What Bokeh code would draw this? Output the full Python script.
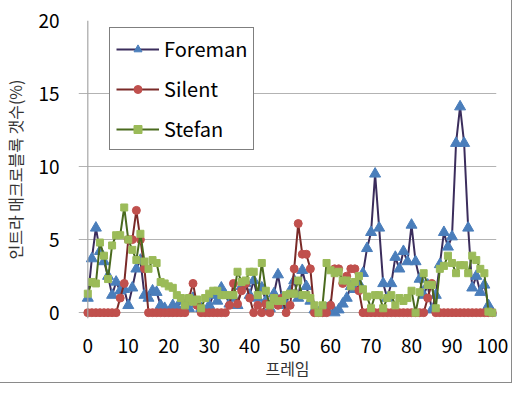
from bokeh.plotting import figure
from bokeh.models import Range1d, Span, FixedTicker, Legend, LegendItem
from bokeh.embed import file_html
from bokeh.resources import INLINE

frames = list(range(0, 101))

foreman = [1.0, 3.7, 5.8, 4.2, 3.5, 2.5, 1.2, 2.1, 1.5, 1.6,
           0.5, 1.7, 3.0, 3.6, 1.2, 1.0, 1.5, 1.4, 0.5, 0.3,
           0.0, 0.5, 0.3, 0.8, 0.5, 0.3, 1.0, 0.6, 0.3, 0.0,
           0.5, 1.2, 0.8, 1.7, 1.2, 0.6, 1.0, 0.5, 1.8, 2.0,
           1.2, 2.2, 1.0, 1.7, 0.8, 0.3, 1.3, 2.6, 1.0, 0.5,
           1.5, 2.2, 1.0, 2.9, 1.8, 0.8, 0.2, 0.0, 0.0, 0.3,
           0.5, 0.0, 0.2, 0.6, 1.0, 1.8, 1.6, 2.0, 2.7, 4.4,
           5.5, 9.5, 5.8, 2.0, 1.0, 2.0, 3.8, 3.0, 4.2, 3.5,
           6.0, 3.5, 2.3, 1.2, 1.9, 0.2, 1.2, 3.3, 5.5, 4.5,
           5.2, 11.6, 14.1, 11.6, 5.8, 1.7, 2.5, 1.4, 1.9, 0.5,
           0.0]

silent = [0.0, 0.0, 0.0, 0.0, 0.0, 0.0, 0.0, 0.0, 1.0, 2.0,
          5.0, 5.0, 7.0, 5.0, 3.0, 0.0, 0.0, 0.0, 0.0, 0.0,
          0.0, 0.0, 0.0, 0.0, 0.0, 1.0, 2.0, 0.5, 0.0, 0.0,
          0.0, 0.0, 0.0, 0.0, 0.0, 0.5, 2.0, 0.6, 1.5, 2.0,
          1.0, 0.0, 0.5, 0.0, 0.6, 0.0, 1.0, 0.5, 1.0, 0.0,
          0.5, 3.0, 6.1, 4.0, 4.0, 3.0, 0.0, 0.0, 0.0, 0.0,
          0.5, 3.0, 3.0, 2.0, 2.5, 3.0, 3.0, 1.5, 0.0, 0.0,
          0.0, 0.0, 0.0, 0.0, 0.0, 0.0, 0.0, 0.0, 0.0, 0.0,
          0.0, 0.0, 0.0, 0.0, 1.0, 2.0, 0.0, 0.0, 0.0, 0.0,
          0.0, 0.0, 0.0, 0.0, 0.0, 0.0, 0.0, 0.0, 0.0, 0.0,
          0.0]

stefan = [1.3, 2.1, 2.0, 4.8, 3.9, 2.3, 4.6, 5.3, 5.3, 7.2,
          5.0, 4.3, 3.6, 5.4, 3.5, 3.0, 3.6, 3.4, 2.1, 2.0,
          1.8, 1.7, 1.2, 1.0, 0.5, 1.0, 0.75, 0.9, 0.3, 1.0,
          1.3, 1.5, 1.5, 1.2, 1.2, 1.2, 1.2, 2.8, 2.1, 2.2,
          2.8, 2.8, 1.2, 3.4, 1.5, 0.5, 1.0, 0.8, 0.8, 1.2,
          1.3, 1.3, 2.2, 1.2, 1.2, 1.0, 0.5, 0.0, 0.5, 3.4,
          2.9, 2.7, 2.8, 2.2, 2.2, 1.8, 2.1, 2.5, 1.6, 1.1,
          0.3, 1.2, 1.2, 0.3, 1.0, 1.2, 0.5, 1.0, 0.8, 1.0,
          1.5, 0.0, 1.4, 2.7, 1.9, 1.9, 0.3, 3.0, 3.2, 3.9,
          3.4, 2.7, 3.25, 3.25, 2.7, 3.9, 3.6, 3.0, 2.7, 0.07,
          0.0]

x_ticks = [0, 10, 20, 30, 40, 50, 60, 70, 80, 90, 100]
y_ticks = [0, 5, 10, 15, 20]

FONT = "Noto Sans CJK KR"

p = figure(width=511, height=382, output_backend="svg", toolbar_location=None,
           x_range=Range1d(-2.3, 101), y_range=Range1d(-0.4, 20),
           min_border_left=78, min_border_right=15, min_border_top=20,
           min_border_bottom=63)
p.styles = {"outline": "1px solid #8a8a8a"}
p.outline_line_color = None
p.background_fill_color = "white"

p.xgrid.grid_line_color = None
p.ygrid.grid_line_color = "#b3b3b3"
p.ygrid.grid_line_width = 1.2
p.ygrid.ticker = FixedTicker(ticks=y_ticks)

p.xaxis.ticker = FixedTicker(ticks=x_ticks)
p.yaxis.ticker = FixedTicker(ticks=y_ticks)
for ax in (p.xaxis[0], p.yaxis[0]):
    ax.axis_line_color = None
    ax.major_tick_line_color = None
    ax.minor_tick_line_color = None
    ax.major_label_text_font = FONT
    ax.major_label_text_font_size = "19px"
    ax.major_label_text_color = "black"
    ax.axis_label_text_font = FONT
    ax.axis_label_text_font_style = "normal"
    ax.axis_label_text_font_size = "16px"
    ax.axis_label_text_color = "#333333"

p.xaxis.major_label_standoff = 14
p.xaxis.axis_label = "프레임"
p.xaxis.axis_label_standoff = 0
p.yaxis.major_label_standoff = 13
p.yaxis.axis_label = "인트라 매크로블록 갯수(%)"
p.yaxis.axis_label_standoff = 8

p.add_layout(Span(location=0, dimension="height", line_color="#a6a6a6", line_width=1.2))

series = [
    ("Foreman", foreman, "#3b2d5c", "#4a7ebb", "triangle", 11),
    ("Silent", silent, "#7a2a28", "#c0504d", "circle", 8),
    ("Stefan", stefan, "#4a6a1e", "#9bbb59", "square", 7),
]
items = []
for name, ys, lc, mc, mk, sz in series:
    l = p.line(frames, ys, line_color=lc, line_width=2)
    s = p.scatter(frames, ys, marker=mk, size=sz, fill_color=mc, line_color=mc)
    items.append(LegendItem(label=name, renderers=[l, s]))

legend = Legend(items=items, location=(31, 168))
legend.label_text_font = FONT
legend.label_text_font_size = "20px"
legend.label_text_color = "black"
legend.glyph_width = 43
legend.glyph_height = 20
legend.label_height = 20
legend.spacing = 11
legend.padding = 6
legend.margin = 0
legend.label_standoff = 5
legend.border_line_color = "black"
legend.border_line_width = 1
legend.background_fill_alpha = 1
p.add_layout(legend)

open("out.html", "w").write(file_html(p, INLINE))
